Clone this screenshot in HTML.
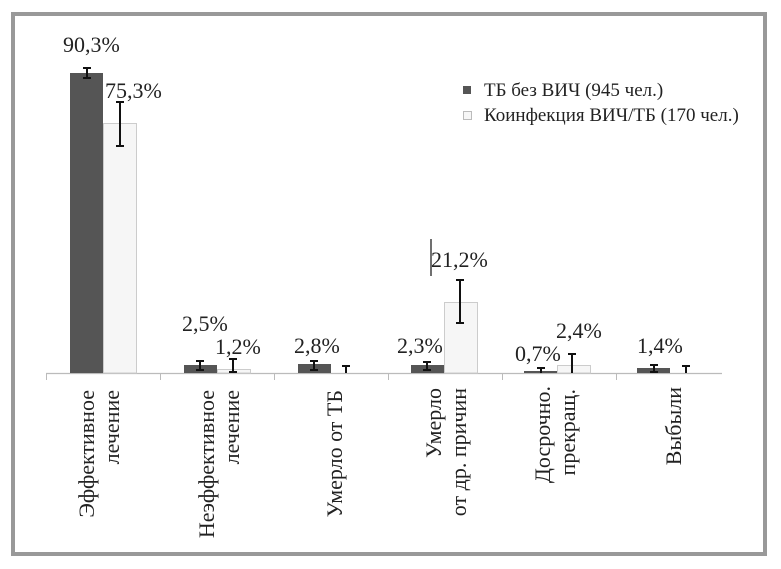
<!DOCTYPE html>
<html><head><meta charset="utf-8"><style>
html,body{margin:0;padding:0;background:#fff;}
svg{display:block;}
text{font-family:"Liberation Serif","DejaVu Serif",serif;fill:#222;}
</style></head><body>
<svg width="781" height="569" viewBox="0 0 781 569" xmlns="http://www.w3.org/2000/svg">
<rect x="13" y="14" width="752" height="540" fill="#fff" stroke="#999" stroke-width="4"/>
<line x1="46" y1="373.5" x2="722" y2="373.5" stroke="#bbb" stroke-width="1.2"/>
<g stroke="#bbb" stroke-width="1">
<line x1="46.5" y1="373" x2="46.5" y2="380"/><line x1="160.5" y1="373" x2="160.5" y2="380"/>
<line x1="274.5" y1="373" x2="274.5" y2="380"/><line x1="388.5" y1="373" x2="388.5" y2="380"/>
<line x1="502.5" y1="373" x2="502.5" y2="380"/><line x1="616.5" y1="373" x2="616.5" y2="380"/>
</g>
<g fill="#555">
<rect x="70" y="73" width="33" height="300"/>
<rect x="184" y="365" width="33" height="8"/>
<rect x="298" y="364" width="33" height="9"/>
<rect x="411" y="365" width="33" height="8"/>
<rect x="524" y="371" width="33" height="2"/>
<rect x="637" y="368" width="33" height="5"/>
</g>
<g fill="#f6f6f6" stroke="#ccc" stroke-width="1">
<rect x="103.5" y="123.5" width="33" height="249.5"/>
<rect x="217.5" y="369.5" width="33" height="3.5"/>
<rect x="444.5" y="302.5" width="33" height="70.5"/>
<rect x="557.5" y="365.5" width="33" height="7.5"/>
</g>
<g stroke="#111" stroke-width="2" fill="none">
<path d="M87 68V78M83 68H91M83 78H91"/>
<path d="M120 102V146M116 102H124M116 146H124"/>
<path d="M200 361V370M196 361H204M196 370H204"/>
<path d="M233 359V372M229 359H237M229 372H237"/>
<path d="M314 361V370M310 361H318M310 370H318"/>
<path d="M346 366V373M342 366H350"/>
<path d="M427 362V370M423 362H431M423 370H431"/>
<path d="M460 280V323M456 280H464M456 323H464"/>
<path d="M541 368V373M537 368H545"/>
<path d="M572 354V373M568 354H576"/>
<path d="M654 365V372M650 365H658M650 372H658"/>
<path d="M686 366V373M682 366H690"/>
</g>
<line x1="431" y1="239" x2="431" y2="276" stroke="#111" stroke-width="1.2"/>
<g font-size="22">
<text x="63" y="52">90,3%</text>
<text x="105" y="98">75,3%</text>
<text x="182" y="331">2,5%</text>
<text x="215" y="354">1,2%</text>
<text x="294" y="353">2,8%</text>
<text x="397" y="353">2,3%</text>
<text x="431" y="267">21,2%</text>
<text x="515" y="361">0,7%</text>
<text x="556" y="338">2,4%</text>
<text x="637" y="353">1,4%</text>
</g>
<rect x="463" y="86" width="8" height="8" fill="#555"/>
<rect x="463.5" y="111.5" width="8" height="8" fill="#f6f6f6" stroke="#bbb"/>
<text x="484" y="96" font-size="19">ТБ без ВИЧ (945 чел.)</text>
<text x="484" y="121" font-size="19">Коинфекция ВИЧ/ТБ (170 чел.)</text>
<g font-size="22" text-anchor="end">
<text transform="translate(94,390) rotate(-90)">Эффективное</text>
<text transform="translate(119,390) rotate(-90)">лечение</text>
<text transform="translate(214,390) rotate(-90)">Неэффективное</text>
<text transform="translate(239,390) rotate(-90)">лечение</text>
<text transform="translate(342,390) rotate(-90)">Умерло от ТБ</text>
<text transform="translate(441,388) rotate(-90)">Умерло</text>
<text transform="translate(466,388) rotate(-90)">от др. причин</text>
<text transform="translate(550,386) rotate(-90)">Досрочно.</text>
<text transform="translate(575,389) rotate(-90)">прекращ.</text>
<text transform="translate(681,387) rotate(-90)">Выбыли</text>
</g>
</svg>
</body></html>
